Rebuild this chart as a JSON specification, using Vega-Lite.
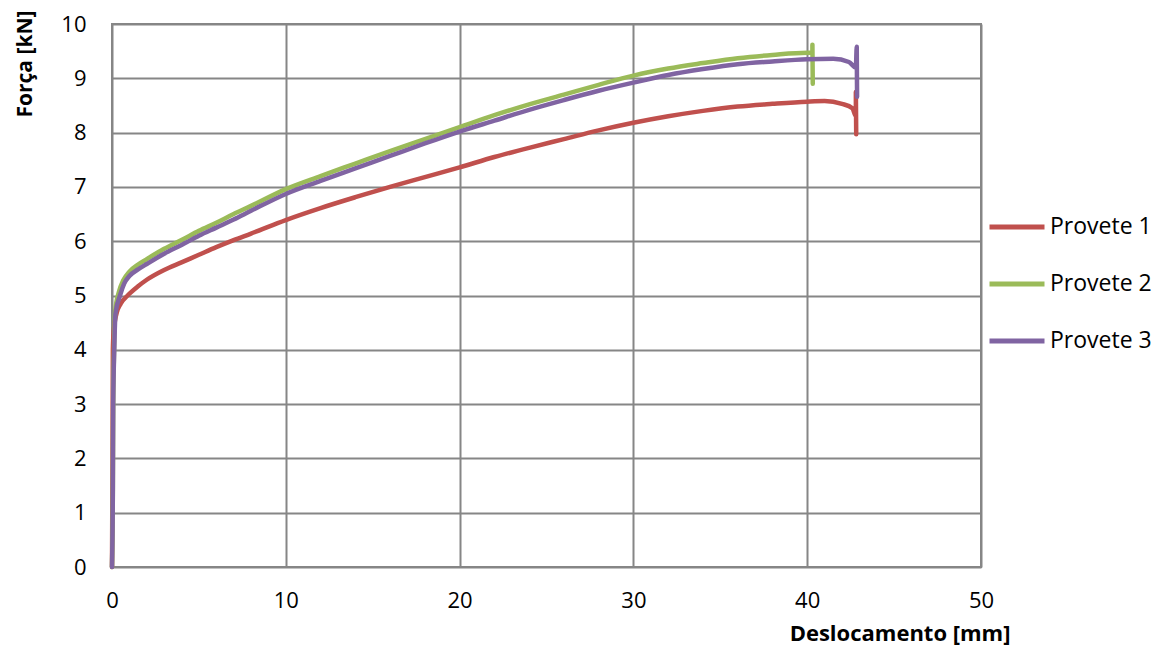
{
  "$schema": "https://vega.github.io/schema/vega-lite/v6.json",
  "width": 869,
  "height": 543,
  "autosize": {"type": "none"},
  "padding": {"left": 112, "top": 24, "right": 182, "bottom": 84},
  "background": "white",
  "config": {
    "font": "Open Sans",
    "view": {"stroke": "#868686", "strokeWidth": 2}
  },
  "data": {
    "values": [
      {"s": "Provete 1", "i": 1, "x": 0, "y": 0},
      {"s": "Provete 1", "i": 2, "x": 0.03, "y": 2},
      {"s": "Provete 1", "i": 3, "x": 0.05, "y": 4},
      {"s": "Provete 1", "i": 4, "x": 0.1, "y": 4.35},
      {"s": "Provete 1", "i": 5, "x": 0.26, "y": 4.67},
      {"s": "Provete 1", "i": 6, "x": 0.5, "y": 4.85},
      {"s": "Provete 1", "i": 7, "x": 0.9, "y": 5.0},
      {"s": "Provete 1", "i": 8, "x": 1.5, "y": 5.17},
      {"s": "Provete 1", "i": 9, "x": 2, "y": 5.29},
      {"s": "Provete 1", "i": 10, "x": 3, "y": 5.47},
      {"s": "Provete 1", "i": 11, "x": 4, "y": 5.61},
      {"s": "Provete 1", "i": 12, "x": 5, "y": 5.75},
      {"s": "Provete 1", "i": 13, "x": 6, "y": 5.89},
      {"s": "Provete 1", "i": 14, "x": 7, "y": 6.02},
      {"s": "Provete 1", "i": 15, "x": 8, "y": 6.14},
      {"s": "Provete 1", "i": 16, "x": 10, "y": 6.39},
      {"s": "Provete 1", "i": 17, "x": 12, "y": 6.61},
      {"s": "Provete 1", "i": 18, "x": 14, "y": 6.81},
      {"s": "Provete 1", "i": 19, "x": 16, "y": 7.0},
      {"s": "Provete 1", "i": 20, "x": 18, "y": 7.18},
      {"s": "Provete 1", "i": 21, "x": 20, "y": 7.36},
      {"s": "Provete 1", "i": 22, "x": 22, "y": 7.55},
      {"s": "Provete 1", "i": 23, "x": 24, "y": 7.72},
      {"s": "Provete 1", "i": 24, "x": 26, "y": 7.88},
      {"s": "Provete 1", "i": 25, "x": 28, "y": 8.04},
      {"s": "Provete 1", "i": 26, "x": 30, "y": 8.18},
      {"s": "Provete 1", "i": 27, "x": 32, "y": 8.3},
      {"s": "Provete 1", "i": 28, "x": 34, "y": 8.4},
      {"s": "Provete 1", "i": 29, "x": 36, "y": 8.48},
      {"s": "Provete 1", "i": 30, "x": 38, "y": 8.53},
      {"s": "Provete 1", "i": 31, "x": 40, "y": 8.57},
      {"s": "Provete 1", "i": 32, "x": 41, "y": 8.58},
      {"s": "Provete 1", "i": 33, "x": 42, "y": 8.53},
      {"s": "Provete 1", "i": 34, "x": 42.6, "y": 8.45},
      {"s": "Provete 1", "i": 35, "x": 42.8, "y": 8.3},
      {"s": "Provete 1", "i": 36, "x": 42.8, "y": 8.75},
      {"s": "Provete 1", "i": 37, "x": 42.82, "y": 7.97},
      {"s": "Provete 2", "i": 1, "x": 0, "y": 0},
      {"s": "Provete 2", "i": 2, "x": 0.05, "y": 1.5},
      {"s": "Provete 2", "i": 3, "x": 0.07, "y": 3},
      {"s": "Provete 2", "i": 4, "x": 0.12, "y": 4},
      {"s": "Provete 2", "i": 5, "x": 0.18, "y": 4.7},
      {"s": "Provete 2", "i": 6, "x": 0.4, "y": 5.07},
      {"s": "Provete 2", "i": 7, "x": 0.65, "y": 5.28},
      {"s": "Provete 2", "i": 8, "x": 1, "y": 5.44},
      {"s": "Provete 2", "i": 9, "x": 1.5, "y": 5.57},
      {"s": "Provete 2", "i": 10, "x": 2, "y": 5.67},
      {"s": "Provete 2", "i": 11, "x": 3, "y": 5.86},
      {"s": "Provete 2", "i": 12, "x": 4, "y": 6.02},
      {"s": "Provete 2", "i": 13, "x": 5, "y": 6.19},
      {"s": "Provete 2", "i": 14, "x": 6, "y": 6.34},
      {"s": "Provete 2", "i": 15, "x": 7, "y": 6.5},
      {"s": "Provete 2", "i": 16, "x": 8, "y": 6.65},
      {"s": "Provete 2", "i": 17, "x": 10, "y": 6.96},
      {"s": "Provete 2", "i": 18, "x": 12, "y": 7.2},
      {"s": "Provete 2", "i": 19, "x": 14, "y": 7.43},
      {"s": "Provete 2", "i": 20, "x": 16, "y": 7.66},
      {"s": "Provete 2", "i": 21, "x": 18, "y": 7.88},
      {"s": "Provete 2", "i": 22, "x": 20, "y": 8.1},
      {"s": "Provete 2", "i": 23, "x": 22, "y": 8.32},
      {"s": "Provete 2", "i": 24, "x": 24, "y": 8.52},
      {"s": "Provete 2", "i": 25, "x": 26, "y": 8.7},
      {"s": "Provete 2", "i": 26, "x": 28, "y": 8.88},
      {"s": "Provete 2", "i": 27, "x": 30, "y": 9.05},
      {"s": "Provete 2", "i": 28, "x": 32, "y": 9.18},
      {"s": "Provete 2", "i": 29, "x": 34, "y": 9.28},
      {"s": "Provete 2", "i": 30, "x": 36, "y": 9.37},
      {"s": "Provete 2", "i": 31, "x": 38, "y": 9.43},
      {"s": "Provete 2", "i": 32, "x": 40, "y": 9.47},
      {"s": "Provete 2", "i": 33, "x": 40.3, "y": 9.47},
      {"s": "Provete 2", "i": 34, "x": 40.3, "y": 9.62},
      {"s": "Provete 2", "i": 35, "x": 40.32, "y": 8.9},
      {"s": "Provete 3", "i": 1, "x": 0, "y": 0},
      {"s": "Provete 3", "i": 2, "x": 0.05, "y": 1.5},
      {"s": "Provete 3", "i": 3, "x": 0.07, "y": 3},
      {"s": "Provete 3", "i": 4, "x": 0.13, "y": 4},
      {"s": "Provete 3", "i": 5, "x": 0.2, "y": 4.67},
      {"s": "Provete 3", "i": 6, "x": 0.46, "y": 5.0},
      {"s": "Provete 3", "i": 7, "x": 0.7, "y": 5.22},
      {"s": "Provete 3", "i": 8, "x": 1, "y": 5.36},
      {"s": "Provete 3", "i": 9, "x": 1.5, "y": 5.48},
      {"s": "Provete 3", "i": 10, "x": 2, "y": 5.58},
      {"s": "Provete 3", "i": 11, "x": 3, "y": 5.77},
      {"s": "Provete 3", "i": 12, "x": 4, "y": 5.93},
      {"s": "Provete 3", "i": 13, "x": 5, "y": 6.1},
      {"s": "Provete 3", "i": 14, "x": 6, "y": 6.25},
      {"s": "Provete 3", "i": 15, "x": 7, "y": 6.4},
      {"s": "Provete 3", "i": 16, "x": 8, "y": 6.56},
      {"s": "Provete 3", "i": 17, "x": 10, "y": 6.87},
      {"s": "Provete 3", "i": 18, "x": 12, "y": 7.11},
      {"s": "Provete 3", "i": 19, "x": 14, "y": 7.34},
      {"s": "Provete 3", "i": 20, "x": 16, "y": 7.57},
      {"s": "Provete 3", "i": 21, "x": 18, "y": 7.8},
      {"s": "Provete 3", "i": 22, "x": 20, "y": 8.02},
      {"s": "Provete 3", "i": 23, "x": 22, "y": 8.22},
      {"s": "Provete 3", "i": 24, "x": 24, "y": 8.42},
      {"s": "Provete 3", "i": 25, "x": 26, "y": 8.6},
      {"s": "Provete 3", "i": 26, "x": 28, "y": 8.77},
      {"s": "Provete 3", "i": 27, "x": 30, "y": 8.92},
      {"s": "Provete 3", "i": 28, "x": 32, "y": 9.06},
      {"s": "Provete 3", "i": 29, "x": 34, "y": 9.17},
      {"s": "Provete 3", "i": 30, "x": 36, "y": 9.26},
      {"s": "Provete 3", "i": 31, "x": 38, "y": 9.31},
      {"s": "Provete 3", "i": 32, "x": 40, "y": 9.35},
      {"s": "Provete 3", "i": 33, "x": 41.5, "y": 9.36},
      {"s": "Provete 3", "i": 34, "x": 42.4, "y": 9.3},
      {"s": "Provete 3", "i": 35, "x": 42.8, "y": 9.2},
      {"s": "Provete 3", "i": 36, "x": 42.85, "y": 9.58},
      {"s": "Provete 3", "i": 37, "x": 42.87, "y": 8.66}
    ]
  },
  "mark": {"type": "line", "strokeWidth": 4.5, "strokeCap": "round", "strokeJoin": "round", "interpolate": "monotone"},
  "encoding": {
    "x": {
      "field": "x", "type": "quantitative",
      "scale": {"domain": [0, 50], "nice": false},
      "axis": {
        "values": [0, 10, 20, 30, 40, 50],
        "title": "Deslocamento [mm]",
        "titleFont": "Open Sans", "titleFontWeight": "bold", "titleFontSize": 22, "titleColor": "#000",
        "titleAnchor": "end", "titleAlign": "right", "titleX": 898, "titleY": 66, "titleBaseline": "middle",
        "labelFont": "Open Sans", "labelFontSize": 22, "labelColor": "#000", "labelPadding": 23, "labelFlush": false,
        "ticks": false, "domain": false,
        "gridColor": "#868686", "gridWidth": 2, "gridOpacity": 1
      }
    },
    "y": {
      "field": "y", "type": "quantitative",
      "scale": {"domain": [0, 10], "nice": false},
      "axis": {
        "values": [0, 1, 2, 3, 4, 5, 6, 7, 8, 9, 10],
        "title": "Força [kN]",
        "titleFont": "Open Sans", "titleFontWeight": "bold", "titleFontSize": 21, "titleColor": "#000",
        "titleAnchor": "end", "titleAngle": -90, "titleAlign": "right", "titleBaseline": "middle",
        "titleX": -87, "titleY": -14,
        "labelFont": "Open Sans", "labelFontSize": 22, "labelColor": "#000", "labelPadding": 26, "labelFlush": false,
        "ticks": false, "domain": false,
        "gridColor": "#868686", "gridWidth": 2, "gridOpacity": 1
      }
    },
    "color": {
      "field": "s", "type": "nominal",
      "scale": {"domain": ["Provete 1", "Provete 2", "Provete 3"], "range": ["#C0504D", "#9BBB59", "#8064A2"]},
      "legend": {
        "title": null, "orient": "none", "legendX": 875, "legendY": 173,
        "symbolType": "stroke", "symbolSize": 3025, "symbolStrokeWidth": 5,
        "labelFont": "Open Sans", "labelFontSize": 23, "labelColor": "#000", "labelOffset": 3,
        "rowPadding": 15
      }
    },
    "order": {"field": "i", "type": "quantitative"}
  }
}
